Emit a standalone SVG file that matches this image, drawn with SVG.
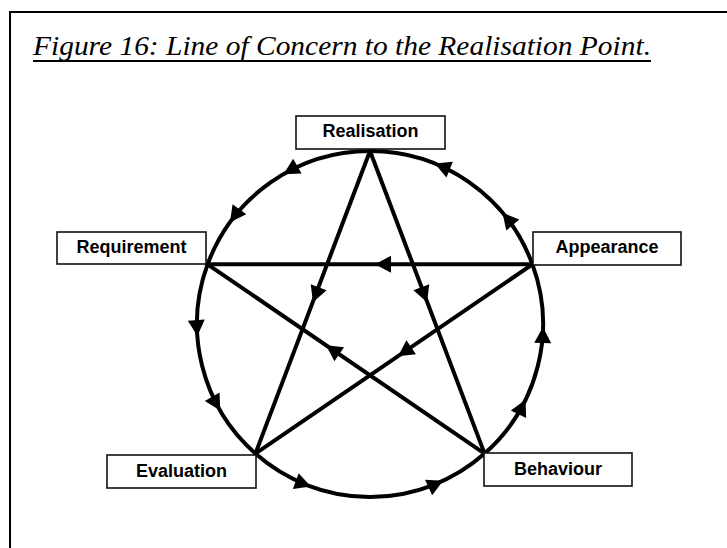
<svg xmlns="http://www.w3.org/2000/svg" xmlns:xlink="http://www.w3.org/1999/xlink" width="727" height="548" viewBox="0 0 727 548">
  <style>
    .frame { fill: none; stroke: #000; stroke-width: 2; }
    .title { font-family: "Liberation Serif", "Times New Roman", serif; font-style: italic; font-size: 27px; fill: #000; }
    .rule { stroke: #000; stroke-width: 2; }
    .edge { fill: none; stroke: #000; stroke-width: 4; stroke-linecap: round; }
    .head { fill: #000; stroke: none; }
    .box { fill: #fff; stroke: #111; stroke-width: 1.6; }
    .label { font-family: "Liberation Sans", Arial, sans-serif; font-weight: bold; font-size: 18px; fill: #000; text-anchor: middle; }
  </style>
  <defs>
    <!-- arrowhead pointing along +x, tip at the origin -->
    <path id="ah" class="head" d="M0,0 L-16,-8.5 L-16,8.5 Z"/>
  </defs>

  <rect width="727" height="548" fill="#fff"/>
  <rect class="frame" x="10" y="12" width="800" height="600"/>

  <text class="title" x="33" y="55" textLength="618" lengthAdjust="spacingAndGlyphs">Figure 16: Line of Concern to the Realisation Point.</text>
  <line class="rule" x1="33" y1="61" x2="651" y2="61"/>

  <g id="connectors">
    <!-- outer cycle, circle centre (370,324), r 173, running anticlockwise -->
    <g id="realisation-requirement">
      <path class="edge" d="M370,151 A173,173 0 0,0 207.6,264.3"/>
      <use xlink:href="#ah" href="#ah" transform="translate(283.5,174.2) rotate(150)"/>
      <use xlink:href="#ah" href="#ah" transform="translate(230,222.3) rotate(126)"/>
    </g>
    <g id="requirement-evaluation">
      <path class="edge" d="M207.6,264.3 A173,173 0 0,0 255.4,453.6"/>
      <use xlink:href="#ah" href="#ah" transform="translate(197.4,336.1) rotate(86)"/>
      <use xlink:href="#ah" href="#ah" transform="translate(220.2,410.5) rotate(60)"/>
    </g>
    <g id="evaluation-behaviour">
      <path class="edge" d="M255.4,453.6 A173,173 0 0,0 484.6,453.6"/>
      <use xlink:href="#ah" href="#ah" transform="translate(310.8,486.6) rotate(20)"/>
      <use xlink:href="#ah" href="#ah" transform="translate(443.1,480.8) rotate(-25)"/>
    </g>
    <g id="behaviour-appearance">
      <path class="edge" d="M484.6,453.6 A173,173 0 0,0 532.4,264.3"/>
      <use xlink:href="#ah" href="#ah" transform="translate(525.5,399.8) rotate(-64)"/>
      <use xlink:href="#ah" href="#ah" transform="translate(543,327) rotate(-89)"/>
    </g>
    <g id="appearance-realisation">
      <path class="edge" d="M532.4,264.3 A173,173 0 0,0 370,151"/>
      <use xlink:href="#ah" href="#ah" transform="translate(502.5,212.8) rotate(-130)"/>
      <use xlink:href="#ah" href="#ah" transform="translate(434.8,163.6) rotate(-158)"/>
    </g>

    <!-- inner star -->
    <g id="appearance-requirement">
      <path class="edge" d="M532.4,264.3 L207.6,264.3"/>
      <use xlink:href="#ah" href="#ah" transform="translate(375,264.3) rotate(180)"/>
    </g>
    <g id="realisation-evaluation">
      <path class="edge" d="M370,151 L255.4,453.6"/>
      <use xlink:href="#ah" href="#ah" transform="translate(313,302.3) rotate(110.7)"/>
    </g>
    <g id="realisation-behaviour">
      <path class="edge" d="M370,151 L484.6,453.6"/>
      <use xlink:href="#ah" href="#ah" transform="translate(427,302.3) rotate(69.3)"/>
    </g>
    <g id="behaviour-requirement">
      <path class="edge" d="M484.6,453.6 L207.6,264.3"/>
      <use xlink:href="#ah" href="#ah" transform="translate(326,345.2) rotate(-145.65)"/>
    </g>
    <g id="appearance-evaluation">
      <path class="edge" d="M532.4,264.3 L255.4,453.6"/>
      <use xlink:href="#ah" href="#ah" transform="translate(398,356.2) rotate(145.65)"/>
    </g>
  </g>

  <g id="node-realisation">
    <rect class="box" x="296" y="116" width="149" height="33"/>
    <text class="label" x="370.5" y="136.5">Realisation</text>
  </g>
  <g id="node-requirement">
    <rect class="box" x="57" y="232" width="149" height="32"/>
    <text class="label" x="131.5" y="252.5">Requirement</text>
  </g>
  <g id="node-appearance">
    <rect class="box" x="533" y="232" width="148" height="33"/>
    <text class="label" x="607" y="253">Appearance</text>
  </g>
  <g id="node-evaluation">
    <rect class="box" x="107" y="455" width="149" height="33"/>
    <text class="label" x="181.5" y="477">Evaluation</text>
  </g>
  <g id="node-behaviour">
    <rect class="box" x="484" y="453" width="148" height="33"/>
    <text class="label" x="558" y="474.5">Behaviour</text>
  </g>
</svg>
